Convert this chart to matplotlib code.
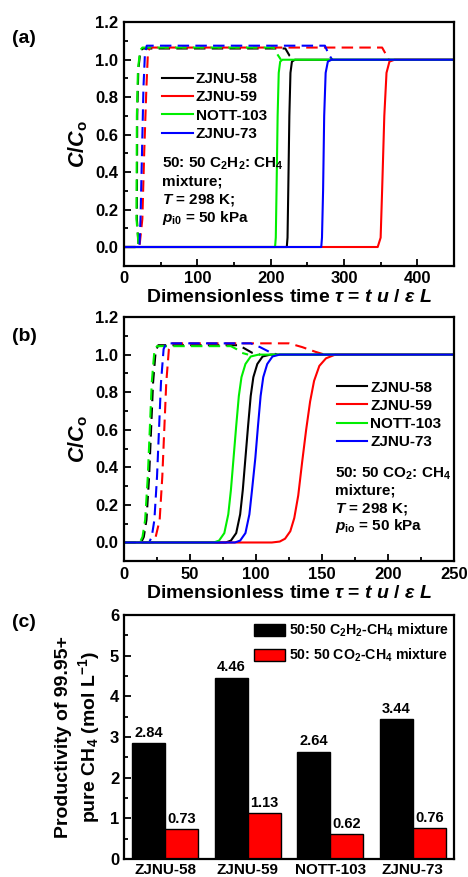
import matplotlib
matplotlib.use("Agg")
import matplotlib.pyplot as plt
from matplotlib.ticker import MultipleLocator
import numpy as np

plt.rcParams['font.family'] = ['Liberation Sans', 'DejaVu Sans']
plt.rcParams['font.weight'] = 'bold'
plt.rcParams['mathtext.fontset'] = 'custom'
plt.rcParams['mathtext.rm'] = 'Liberation Sans:bold'
plt.rcParams['mathtext.it'] = 'Liberation Sans:italic:bold'
plt.rcParams['mathtext.bf'] = 'Liberation Sans:bold'
plt.rcParams['mathtext.sf'] = 'Liberation Sans:bold'
plt.rcParams['axes.linewidth'] = 1.6

materials = ['ZJNU-58', 'ZJNU-59', 'NOTT-103', 'ZJNU-73']
colors = ['black', 'red', '#00ee00', 'blue']

# ---- Panel (a): C2H2/CH4 breakthrough (solid = C2H2, dashed = CH4) ----
a_solid_x = {
    'ZJNU-58': [0, 222, 223, 224, 225.5, 227, 229, 233, 450],
    'ZJNU-59': [0, 346, 350, 352, 355, 358, 362, 369, 450],
    'NOTT-103': [0, 206, 207, 208, 209.5, 211, 213, 216, 450],
    'ZJNU-73': [0, 269, 270, 271.5, 273, 275, 278, 283, 450],
}
a_solid_y = [0, 0, 0.05, 0.3, 0.7, 0.93, 0.99, 1.0, 1.0]

a_dash_x = {
    'ZJNU-58': [0, 20, 17.5, 18, 19.5, 22.5, 26, 220, 226, 233],
    'ZJNU-59': [0, 21, 25, 27.5, 30.5, 32.5, 35, 352, 357, 361],
    'NOTT-103': [0, 20, 17, 17.5, 19, 22, 25, 204, 209, 214],
    'ZJNU-73': [0, 21, 22.5, 24.5, 26.5, 28.5, 31, 274, 279, 284],
}
a_dash_y = {
    'ZJNU-58': [0, 0, 0.15, 0.7, 0.95, 1.05, 1.06, 1.06, 1.02, 1.0],
    'ZJNU-59': [0, 0, 0.15, 0.5, 0.85, 1.03, 1.065, 1.065, 1.03, 1.0],
    'NOTT-103': [0, 0, 0.15, 0.7, 0.95, 1.05, 1.065, 1.065, 1.03, 1.0],
    'ZJNU-73': [0, 0, 0.15, 0.5, 0.85, 1.03, 1.075, 1.075, 1.03, 1.0],
}

# ---- Panel (b): CO2/CH4 breakthrough ----
b_solid_x = {
    'ZJNU-58': [0, 77, 81, 85, 88, 90, 92, 94, 96, 98, 101, 105, 111, 250],
    'ZJNU-59': [0, 112, 118, 122, 126, 129, 132, 135, 138, 141, 144, 148, 153, 160, 250],
    'NOTT-103': [0, 68, 72, 76, 79, 81, 83, 85, 87, 89, 92, 96, 102, 250],
    'ZJNU-73': [0, 84, 88, 92, 95, 97, 99.5, 101.5, 103.5, 105.5, 108.5, 112.5, 118, 250],
}
b_solid_y = {
    'ZJNU-58': [0, 0, 0.01, 0.05, 0.15, 0.28, 0.45, 0.62, 0.78, 0.88, 0.95, 0.99, 1.0, 1.0],
    'ZJNU-59': [0, 0, 0.005, 0.02, 0.06, 0.13, 0.25, 0.43, 0.6, 0.75, 0.86, 0.94, 0.98, 1.0, 1.0],
    'NOTT-103': [0, 0, 0.01, 0.05, 0.15, 0.28, 0.45, 0.62, 0.78, 0.88, 0.95, 0.99, 1.0, 1.0],
    'ZJNU-73': [0, 0, 0.01, 0.05, 0.15, 0.28, 0.45, 0.62, 0.78, 0.88, 0.95, 0.99, 1.0, 1.0],
}
b_dash_x = {
    'ZJNU-58': [0, 13, 15, 17, 19, 20.5, 22, 24, 26, 87, 92, 97, 103],
    'ZJNU-59': [0, 22, 24, 27, 29, 30.5, 32, 34, 36, 125, 135, 145, 152],
    'NOTT-103': [0, 12, 14, 16, 18, 19.5, 21, 23, 25, 81, 85, 89, 94],
    'ZJNU-73': [0, 19, 21, 23, 25, 26.5, 28, 30, 32, 96, 103, 110, 116],
}
b_dash_y = {
    'ZJNU-58': [0, 0, 0.03, 0.12, 0.35, 0.6, 0.85, 1.02, 1.05, 1.05, 1.03, 1.01, 1.0],
    'ZJNU-59': [0, 0, 0.03, 0.12, 0.35, 0.6, 0.85, 1.03, 1.06, 1.06, 1.04, 1.015, 1.0],
    'NOTT-103': [0, 0, 0.03, 0.12, 0.35, 0.6, 0.85, 1.02, 1.045, 1.045, 1.03, 1.01, 1.0],
    'ZJNU-73': [0, 0, 0.03, 0.12, 0.35, 0.6, 0.85, 1.03, 1.06, 1.06, 1.04, 1.015, 1.0],
}

# ---- Panel (c): productivity ----
prod_c2h2 = [2.84, 4.46, 2.64, 3.44]
prod_co2 = [0.73, 1.13, 0.62, 0.76]

xlabel = r'Dimensionless time $\tau$ = $t$ $u$ / $\varepsilon$ $L$'

fig = plt.figure(figsize=(4.68, 8.77), dpi=100)

def style_line_axes(ax, xmax, xmajor, xminor):
    ax.set_xlim(0, xmax)
    ax.set_ylim(-0.1, 1.2)
    ax.xaxis.set_major_locator(MultipleLocator(xmajor))
    ax.xaxis.set_minor_locator(MultipleLocator(xminor))
    ax.yaxis.set_major_locator(MultipleLocator(0.2))
    ax.yaxis.set_minor_locator(MultipleLocator(0.1))
    ax.tick_params(which='both', direction='in', width=1.3, labelsize=12, pad=4)
    ax.tick_params(which='major', length=5)
    ax.tick_params(which='minor', length=3)
    ax.set_xlabel(xlabel, fontsize=14, fontweight='bold', labelpad=2)
    ax.set_ylabel(r'$C/C_{\rm o}$', fontsize=15.5, labelpad=4)
    for lbl in ax.get_xticklabels() + ax.get_yticklabels():
        lbl.set_fontweight('bold')

leg_kw = dict(frameon=False, fontsize=11, handlelength=2.0, handletextpad=0.2,
              labelspacing=0.28, borderpad=0, borderaxespad=0)
dash = (0, (5.5, 3))

# Panel (a)
ax1 = fig.add_axes([0.265, 0.697, 0.705, 0.2776])
for m, c in zip(materials, colors):
    ax1.plot(a_dash_x[m], a_dash_y[m], color=c, lw=1.5, ls=dash)
for m, c in zip(materials, colors):
    ax1.plot(a_solid_x[m], a_solid_y, color=c, lw=1.5, label=m)
style_line_axes(ax1, 450, 100, 50)
ax1.legend(loc='upper left', bbox_to_anchor=(0.115, 0.795), **leg_kw)
for i, t in enumerate([r'50: 50 C$_2$H$_2$: CH$_4$', 'mixture;', r'$T$ = 298 K;', r'$p_{\rm i0}$ = 50 kPa']):
    ax1.text(0.115, 0.42 - i * 0.075, t, transform=ax1.transAxes, fontsize=11,
             fontweight='bold', va='center', ha='left')
fig.text(0.026, 0.956, '(a)', fontsize=14, fontweight='bold', va='center')

# Panel (b)
ax2 = fig.add_axes([0.265, 0.360, 0.705, 0.2785])
for m, c in zip(materials, colors):
    ax2.plot(b_dash_x[m], b_dash_y[m], color=c, lw=1.5, ls=dash)
for m, c in zip(materials, colors):
    ax2.plot(b_solid_x[m], b_solid_y[m], color=c, lw=1.5, label=m)
style_line_axes(ax2, 250, 50, 25)
ax2.legend(loc='upper left', bbox_to_anchor=(0.645, 0.74), **leg_kw)
for i, t in enumerate([r'50: 50 CO$_2$: CH$_4$', 'mixture;', r'$T$ = 298 K;', r'$p_{\rm io}$ = 50 kPa']):
    ax2.text(0.638, 0.36 - i * 0.072, t, transform=ax2.transAxes, fontsize=11,
             fontweight='bold', va='center', ha='left')
fig.text(0.026, 0.616, '(b)', fontsize=14, fontweight='bold', va='center')

# Panel (c)
ax3 = fig.add_axes([0.265, 0.0205, 0.705, 0.2783])
x = np.arange(len(materials))
w = 0.4
b1 = ax3.bar(x - w / 2, prod_c2h2, w, color='black', edgecolor='black', lw=1,
             label=r'50:50 C$_2$H$_2$-CH$_4$ mixture')
b2 = ax3.bar(x + w / 2, prod_co2, w, color='red', edgecolor='black', lw=1,
             label=r'50: 50 CO$_2$-CH$_4$ mixture')
for rects, vals in ((b1, prod_c2h2), (b2, prod_co2)):
    for r, v in zip(rects, vals):
        ax3.text(r.get_x() + r.get_width() / 2, v + 0.08, f'{v:.2f}', ha='center',
                 va='bottom', fontsize=10.5, fontweight='bold')
ax3.set_xlim(-0.5, 3.5)
ax3.set_ylim(0, 6)
ax3.set_xticks(x)
ax3.set_xticklabels(materials, fontsize=11, fontweight='bold')
ax3.yaxis.set_major_locator(MultipleLocator(1))
ax3.yaxis.set_minor_locator(MultipleLocator(0.5))
ax3.tick_params(axis='x', length=0, pad=3)
ax3.tick_params(axis='y', which='both', direction='in', width=1.3, labelsize=12)
ax3.tick_params(axis='y', which='major', length=5)
ax3.tick_params(axis='y', which='minor', length=3)
for lbl in ax3.get_yticklabels():
    lbl.set_fontweight('bold')
ax3.set_ylabel('Productivity of 99.95+\n' + r'pure CH$_4$ (mol L$^{-1}$)', fontsize=14,
               fontweight='bold', labelpad=6, linespacing=1.2)
ax3.legend(loc='upper right', bbox_to_anchor=(0.985, 0.972), frameon=False,
           fontsize=10.2, handlelength=2.2, handleheight=1.0, handletextpad=0.25,
           labelspacing=0.55, borderpad=0, borderaxespad=0)
fig.text(0.026, 0.29, '(c)', fontsize=14, fontweight='bold', va='center')

fig.savefig('out.png', dpi=100)
